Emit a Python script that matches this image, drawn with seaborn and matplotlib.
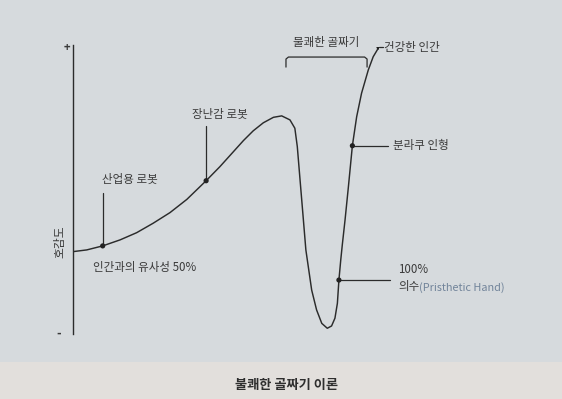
import numpy as np
import pandas as pd
import seaborn as sns
import matplotlib.pyplot as plt
from matplotlib.patches import Rectangle

# curve: x = 인간과의 유사성 (0-100), y = 호감도 (0-100)
curve_x = [0, 4.5, 9.7, 15.4, 20.8, 26.2, 31.7, 37.2, 43.5, 48.0, 52.4, 55.7,
           58.9, 62.2, 65.5, 68.2, 70.9, 72.5, 73.3, 74.2, 75.1, 76.1, 76.9,
           78.0, 79.6, 81.3, 83.1, 84.5, 85.6, 86.4, 86.9, 87.5, 88.0, 88.9,
           90.0, 91.3, 92.7, 94.3, 96.5, 98.1, 100]
curve_y = [28.7, 29.3, 30.7, 32.8, 35.3, 38.6, 42.3, 46.9, 53.4, 58.3, 63.5, 67.4,
           70.8, 73.6, 75.5, 76.0, 74.6, 71.7, 65.3, 53.7, 42.2, 29.3, 23.4,
           15.3, 8.4, 3.7, 2.0, 2.8, 5.5, 10.7, 18.8, 25.8, 31.0, 39.7,
           51.3, 65.6, 75.7, 83.9, 92.0, 96.6, 100]

# labelled points
stem_names = ["산업용 로봇", "장난감 로봇"]
stem_x = [9.7, 43.5]
stem_y = [30.7, 53.4]
stem_top = [49.1, 72.5]

side_names = ["건강한 인간", "분라쿠 인형", "100%"]
side_x = [100, 91.3, 86.9]
side_y = [100, 65.6, 18.8]
side_end = [101.3, 102.9, 103.6]

df = pd.DataFrame({"x": curve_x, "y": curve_y})
pts = pd.DataFrame({"x": stem_x + side_x, "y": stem_y + side_y})

sns.set_style("white")
plt.rcParams["font.family"] = ["Noto Sans CJK KR", "DejaVu Sans"]

ink = "#3a3a3a"
fs = 8.3
fig = plt.figure(figsize=(5.62, 3.99), dpi=100, facecolor="#e2dfdc")
fig.patches.append(Rectangle((0, 0.0927), 1, 0.9073, transform=fig.transFigure,
                             facecolor="#d6dadd", edgecolor="none", zorder=-10))

ax = fig.add_axes([73 / 562, 65 / 399, 306 / 562, 287 / 399])
ax.set_facecolor("none")
sns.lineplot(data=df, x="x", y="y", sort=False, color="#2b2b2b", linewidth=1.05, ax=ax)
sns.scatterplot(data=pts, x="x", y="y", color="#222222", s=14, edgecolor="none",
                zorder=5, ax=ax)

for name, x, y, top in zip(stem_names, stem_x, stem_y, stem_top):
    ax.plot([x, x], [y, top], color="#2b2b2b", linewidth=0.9, clip_on=False)
ax.text(9.5, 54.0, "산업용 로봇", fontsize=fs, color=ink, ha="left", va="center")
ax.text(38.9, 76.7, "장난감 로봇", fontsize=fs, color=ink, ha="left", va="center")

for x, y, end in zip(side_x, side_y, side_end):
    ax.plot([x, end], [y, y], color="#2b2b2b", linewidth=0.9, clip_on=False)
ax.text(101.6, 100, "건강한 인간", fontsize=fs, color=ink, ha="left", va="center")
ax.text(104.6, 65.6, "분라쿠 인형", fontsize=fs, color=ink, ha="left", va="center")
ax.text(106.2, 22.3, "100%", fontsize=fs, color=ink, ha="left", va="center")
t = ax.text(106.2, 16.4, "의수", fontsize=fs, color=ink, ha="left", va="center")
ax.annotate("(Pristhetic Hand)", xy=(1, 0), xycoords=t, va="bottom", ha="left",
            fontsize=7.8, color="#72849a")

ax.text(6.5, 23.3, "인간과의 유사성 50%", fontsize=fs, color=ink, ha="left", va="center")

# bracket over the valley
bx = [69.6, 69.6, 70.4, 95.3, 96.1, 96.1]
by = [93.0, 95.8, 96.5, 96.5, 95.8, 93.0]
ax.plot(bx, by, color="#2b2b2b", linewidth=0.9, clip_on=False)
ax.text(82.8, 101.7, "불쾌한 골짜기", fontsize=fs, color=ink, ha="center", va="center")

ax.text(-2.0, 100, "+", fontsize=8, color=ink, ha="center", va="center", fontweight="bold")
ax.text(-4.6, 0.3, "-", fontsize=9, color=ink, ha="center", va="center", fontweight="bold")
ax.text(-4.2, 32.1, "호감도", fontsize=8.5, color=ink, ha="center", va="center", rotation=90)

ax.set_xlim(0, 100)
ax.set_ylim(0, 100)
ax.set_xticks([])
ax.set_yticks([])
ax.set_xlabel("")
ax.set_ylabel("")
for s in ["top", "right", "bottom"]:
    ax.spines[s].set_visible(False)
ax.spines["left"].set_color("#2b2b2b")
ax.spines["left"].set_linewidth(1.0)
ax.spines["left"].set_bounds(0, 100.7)

fig.text(0.509, 0.035, "불쾌한 골짜기 이론", fontsize=9.5, fontweight="bold",
         color="#2e2e2e", ha="center", va="center")

fig.savefig("out.png", dpi=100, facecolor=fig.get_facecolor())
